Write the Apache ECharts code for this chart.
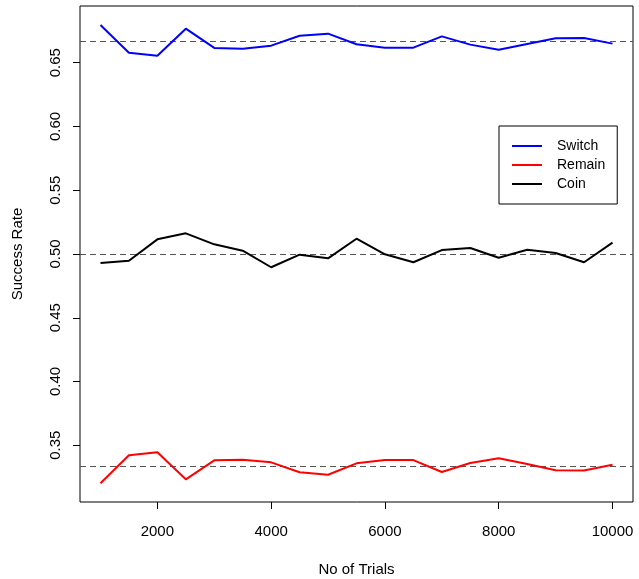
<!DOCTYPE html>
<html>
<head>
<meta charset="utf-8">
<script src="https://cdn.jsdelivr.net/npm/echarts@6/dist/echarts.min.js"></script>
<style>
  html, body { margin: 0; padding: 0; background: #fff; }
  #chart { width: 639px; height: 579px; }
</style>
</head>
<body>
<div id="chart"></div>
<script>
  // data
  var trials = [1000, 1500, 2000, 2500, 3000, 3500, 4000, 4500, 5000, 5500,
                6000, 6500, 7000, 7500, 8000, 8500, 9000, 9500, 10000];
  var switchRate = [0.6796, 0.6579, 0.6555, 0.6767, 0.6616, 0.6610, 0.6634, 0.6712, 0.6728, 0.6645,
                    0.6618, 0.6618, 0.6707, 0.6642, 0.6602, 0.6647, 0.6692, 0.6694, 0.6650];
  var remainRate = [0.3202, 0.3421, 0.3445, 0.3233, 0.3382, 0.3387, 0.3366, 0.3288, 0.3269, 0.3358,
                    0.3384, 0.3384, 0.3290, 0.3361, 0.3398, 0.3353, 0.3304, 0.3302, 0.3347];
  var coinRate = [0.4929, 0.4947, 0.5115, 0.5162, 0.5076, 0.5026, 0.4896, 0.4995, 0.4966, 0.5120,
                  0.4998, 0.4935, 0.5031, 0.5047, 0.4971, 0.5034, 0.5008, 0.4935, 0.5089];
  var refLines = [1 / 3, 0.5, 2 / 3];
  var xTicks = [2000, 4000, 6000, 8000, 10000];
  var yTicks = [0.35, 0.40, 0.45, 0.50, 0.55, 0.60, 0.65];

  var font = 'Liberation Sans, Arial, sans-serif';

  function pairs(ys) {
    return trials.map(function (t, i) { return [t, ys[i]]; });
  }

  function lineSeries(name, color, ys, withRef) {
    var s = {
      name: name,
      type: 'line',
      data: pairs(ys),
      symbol: 'none',
      showSymbol: false,
      lineStyle: { color: color, width: 2 },
      itemStyle: { color: color },
      z: 3
    };
    if (withRef) {
      // precision matters: default rounds 2/3 to 0.67
      s.markLine = {
        silent: true,
        precision: 6,
        symbol: ['none', 'none'],
        label: { show: false },
        lineStyle: { color: '#555', type: [6, 4], width: 1 },
        data: refLines.map(function (v) { return { yAxis: v }; }),
        z: 2
      };
    }
    return s;
  }

  var chart = echarts.init(document.getElementById('chart'));
  chart.setOption({
    animation: false,
    grid: {
      left: 80, top: 6, width: 553, height: 496,
      outerBoundsMode: 'none',
      containLabel: false,
      show: true, borderColor: '#000', borderWidth: 1, backgroundColor: 'transparent'
    },
    legend: {
      orient: 'vertical',
      left: 499, top: 126,
      icon: 'rect',
      itemWidth: 30, itemHeight: 2, itemGap: 3,
      padding: [12, 12, 12, 13],
      backgroundColor: '#fff',
      borderColor: '#000', borderWidth: 1, borderRadius: 0,
      textStyle: { fontFamily: font, fontSize: 14, lineHeight: 16, color: '#000', padding: [0, 0, 0, 10] },
      data: ['Switch', 'Remain', 'Coin']
    },
    xAxis: {
      type: 'value',
      min: 640, max: 10360,
      name: 'No of Trials',
      nameLocation: 'middle',
      nameGap: 60,
      nameTextStyle: { fontFamily: font, fontSize: 15, color: '#000' },
      axisLine: { show: false },
      axisTick: { show: true, length: 7, lineStyle: { color: '#000' }, customValues: xTicks },
      axisLabel: {
        fontFamily: font, fontSize: 15, color: '#000', margin: 22, customValues: xTicks,
        formatter: function (v) { return String(v); }
      },
      splitLine: { show: false }
    },
    yAxis: {
      type: 'value',
      min: 0.3055, max: 0.6945,
      name: 'Success Rate',
      nameLocation: 'middle',
      nameRotate: 90,
      nameGap: 55,
      nameTextStyle: { fontFamily: font, fontSize: 15, color: '#000' },
      axisLine: { show: false },
      axisTick: { show: true, length: 7, lineStyle: { color: '#000' }, customValues: yTicks },
      axisLabel: {
        fontFamily: font, fontSize: 15, color: '#000', margin: 17, rotate: 90,
        customValues: yTicks,
        formatter: function (v) { return v.toFixed(2); }
      },
      splitLine: { show: false }
    },
    series: [
      lineSeries('Switch', '#0000ff', switchRate, true),
      lineSeries('Remain', '#ff0000', remainRate, false),
      lineSeries('Coin', '#000000', coinRate, false)
    ]
  });
</script>
</body>
</html>
